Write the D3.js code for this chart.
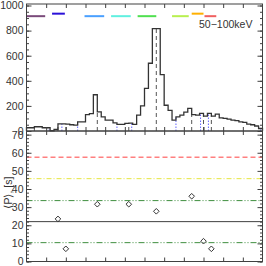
<!DOCTYPE html>
<html>
<head>
<meta charset="utf-8">
<script src="https://cdn.jsdelivr.net/npm/d3@7"></script>
<style>
  body { margin: 0; background: #fff; }
  text { font-family: "Liberation Sans", Arial, sans-serif; }
</style>
</head>
<body>
<div id="chart"></div>
<script>
// light curve, 4 s bins starting at t = 0
const binWidth = 4;
const counts = [26, 26, 34, 34, 26, 26, 2, 12, 57, 57,
  55, 50, 47, 73, 73, 131, 139, 289, 152, 113,
  87, 87, 65, 53, 53, 60, 62, 53, 126, 200,
  340, 540, 815, 815, 450, 205, 165, 87, 113, 126,
  150, 180, 131, 126, 140, 118, 140, 118, 135, 105,
  100, 95, 87, 82, 73, 68, 55, 50, 40, 20];

const peakTimes = [8, 32, 40, 72, 104, 132, 168, 180, 188];
const troughTimes = [0, 23, 36, 52, 92, 107, 152, 177, 185, 238];
// periods between consecutive peaks, plotted at the later peak
const periods = [23.5, 7.0, 31.6, 31.6, 27.7, 36.0, 11.2, 7.0];

const segStart = [0, 26, 59, 86, 113, 148, 168, 181];
const segEnd = [19, 39, 79, 106, 132, 165, 180, 193];
const segLevel = [915, 935, 915, 915, 915, 915, 935, 915];
const segColors = ["#7a4a7a", "#2a10d8", "#4aa0ff", "#60f0e0", "#50e050", "#b8f050", "#ffb000", "#f06060"];

const meanP = 22.0;
const sigmaLines = [10.4, 33.6];
const twoSigma = 45.7;
const threeSigma = 57.5;

const bandLabel = "50\u2212100keV";
const yTitle = "\u27e8P\u27e9, [s]";

let cfg = {
  width: 266,
  height: 266,
  left: 26.5,
  right: 262.5,
  topPanel: [4, 131],
  botPanel: [131, 261.5],
  frame: "#404040",
  ink: "#333333"
};

const svg = d3.select("#chart").append("svg")
  .attr("width", cfg.width)
  .attr("height", cfg.height);

const x = d3.scaleLinear().domain([0, 240]).range([cfg.left, cfg.right]);
const yTop = d3.scaleLinear().domain([0, 1012]).range([cfg.topPanel[1], cfg.topPanel[0]]);
const yBot = d3.scaleLinear().domain([0, 72]).range([cfg.botPanel[1], cfg.botPanel[0]]);

function countAt(t) {
  let i = Math.min(counts.length - 1, Math.max(0, Math.floor(t / binWidth)));
  return counts[i];
}

function drawFrame(yScale, majors, minors) {
  let r = yScale.range();
  let g = svg.append("g");
  // minor y ticks
  g.append("g").attr("transform", `translate(${cfg.left},0)`)
    .call(d3.axisLeft(yScale).tickValues(minors).tickSize(-2.5).tickFormat(""));
  g.append("g").attr("transform", `translate(${cfg.right},0)`)
    .call(d3.axisRight(yScale).tickValues(minors).tickSize(-2.5).tickFormat(""));
  // major y ticks with labels on the left
  g.append("g").attr("transform", `translate(${cfg.left},0)`)
    .call(d3.axisLeft(yScale).tickValues(majors).tickSize(-5).tickPadding(3).tickFormat(d3.format("d")));
  g.append("g").attr("transform", `translate(${cfg.right},0)`)
    .call(d3.axisRight(yScale).tickValues(majors).tickSize(-5).tickFormat(""));
  // x ticks, no labels
  let xt = d3.range(20, 240, 20);
  g.append("g").attr("transform", `translate(0,${r[0]})`)
    .call(d3.axisBottom(x).tickValues(xt).tickSize(-4).tickFormat(""));
  g.append("g").attr("transform", `translate(0,${r[1]})`)
    .call(d3.axisTop(x).tickValues(xt).tickSize(-4).tickFormat(""));
  g.selectAll(".domain").remove();
  g.selectAll("line").attr("stroke", cfg.frame).attr("stroke-width", 1);
  g.selectAll("text")
    .attr("fill", cfg.ink)
    .attr("font-size", "10.5px");
  g.append("rect")
    .attr("x", cfg.left)
    .attr("y", r[1])
    .attr("width", cfg.right - cfg.left)
    .attr("height", r[0] - r[1])
    .attr("fill", "none")
    .attr("stroke", cfg.frame)
    .attr("stroke-width", 1);
}

// ---- top panel: light curve ----
let histPts = [[0, 0]];
counts.forEach((c, i) => {
  histPts.push([i * binWidth, c]);
  histPts.push([(i + 1) * binWidth, c]);
});
histPts.push([counts.length * binWidth, 0]);

svg.selectAll(".trough")
  .data(troughTimes)
  .enter()
  .append("line")
  .attr("x1", d => x(d)).attr("x2", d => x(d))
  .attr("y1", yTop(0)).attr("y2", d => yTop(countAt(d)))
  .attr("stroke", "#6464ff")
  .attr("stroke-width", 1)
  .attr("stroke-dasharray", "1.5,1.5");

svg.selectAll(".peak")
  .data(peakTimes)
  .enter()
  .append("line")
  .attr("x1", d => x(d)).attr("x2", d => x(d))
  .attr("y1", yTop(0)).attr("y2", d => yTop(countAt(d)))
  .attr("stroke", "#555")
  .attr("stroke-width", 1)
  .attr("stroke-dasharray", "4,3");

svg.append("path")
  .attr("d", d3.line().x(d => x(d[0])).y(d => yTop(d[1]))(histPts))
  .attr("fill", "none")
  .attr("stroke", cfg.ink)
  .attr("stroke-width", 1.3);

svg.selectAll(".seg")
  .data(segStart)
  .enter()
  .append("line")
  .attr("x1", d => x(d))
  .attr("x2", (d, i) => x(segEnd[i]))
  .attr("y1", (d, i) => yTop(segLevel[i]))
  .attr("y2", (d, i) => yTop(segLevel[i]))
  .attr("stroke", (d, i) => segColors[i])
  .attr("stroke-width", 2);

svg.append("text")
  .attr("x", 199)
  .attr("y", 28)
  .attr("font-size", "10.5px")
  .attr("fill", cfg.ink)
  .text(bandLabel);

drawFrame(yTop, d3.range(0, 1001, 200), d3.range(0, 1001, 50));

// ---- bottom panel: periods ----
const hLines = [
  { v: threeSigma, color: "#ff8080", dash: "5,3", w: 1.5 },
  { v: twoSigma, color: "#e6e640", dash: "5,2,1,2", w: 1 },
  { v: sigmaLines[1], color: "#3f8f3f", dash: "6,2,1,2,1,2", w: 1 },
  { v: meanP, color: "#404040", dash: null, w: 1 },
  { v: sigmaLines[0], color: "#3f8f3f", dash: "6,2,1,2,1,2", w: 1 }
];

svg.selectAll(".hl")
  .data(hLines)
  .enter()
  .append("line")
  .attr("x1", cfg.left).attr("x2", cfg.right)
  .attr("y1", d => yBot(d.v)).attr("y2", d => yBot(d.v))
  .attr("stroke", d => d.color)
  .attr("stroke-width", d => d.w)
  .attr("stroke-dasharray", d => d.dash);

svg.selectAll(".pt")
  .data(periods)
  .enter()
  .append("path")
  .attr("transform", (d, i) => `translate(${x(peakTimes[i + 1])},${yBot(d)})`)
  .attr("d", "M0,-2.8L2.8,0L0,2.8L-2.8,0Z")
  .attr("fill", "none")
  .attr("stroke", cfg.ink)
  .attr("stroke-width", 1);

drawFrame(yBot, d3.range(0, 71, 10), d3.range(0, 72, 2));

svg.append("text")
  .attr("transform", `translate(12,${yBot(38)}) rotate(-90)`)
  .attr("text-anchor", "middle")
  .attr("font-size", "10.5px")
  .attr("fill", cfg.ink)
  .text(yTitle);
</script>
</body>
</html>
